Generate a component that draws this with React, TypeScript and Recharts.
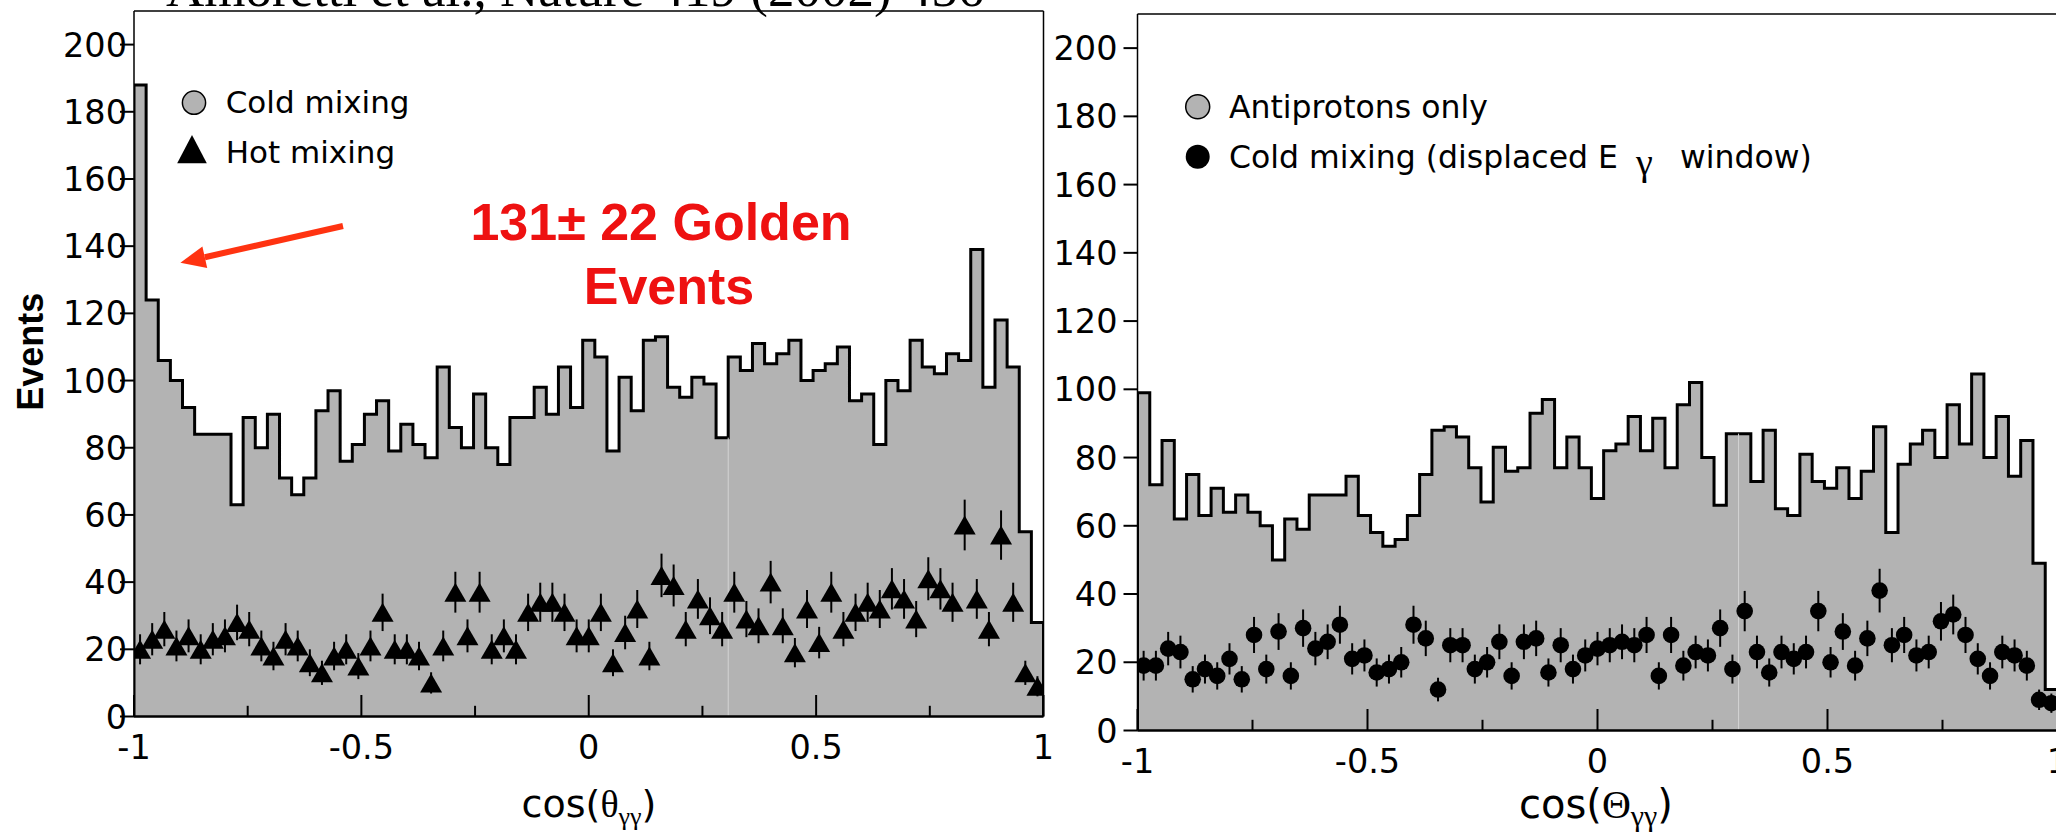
import React from 'react';
import {
  ComposedChart,
  Area,
  Scatter,
  XAxis,
  YAxis,
  ErrorBar,
  ReferenceLine,
} from 'recharts';

// ---------- data ----------
const BIN_COUNT = 75;
const xTicks = [-1, -0.75, -0.5, -0.25, 0, 0.25, 0.5, 0.75, 1];
const xMajorTicks = [-1, -0.5, 0, 0.5, 1];
const yTicks = [0, 20, 40, 60, 80, 100, 120, 140, 160, 180, 200];

// Left panel: cold mixing histogram (events per bin)
const coldMixingHist = [
  188, 124, 106, 100, 92, 84, 84, 84, 63, 89, 80, 90, 71, 66, 71, 91, 97, 76, 81, 90,
  94, 79, 87, 81, 77, 104, 86, 80, 96, 80, 75, 89, 89, 98, 90, 104, 92, 112, 107, 79,
  101, 91, 112, 113, 98, 95, 101, 99, 83, 107, 103, 111, 105, 108, 112, 100, 103, 105, 110, 94,
  96, 81, 100, 97, 112, 104, 102, 108, 106, 139, 98, 118, 104, 55, 28,
];
// Left panel: hot mixing points
const hotMixingPts = [
  20, 23, 26, 21, 24, 20, 23, 24, 28, 26, 21, 18, 23, 21, 16, 13, 18, 20, 15, 21,
  31, 20, 20, 18, 10, 21, 37, 24, 37, 20, 24, 20, 31, 34, 34, 31, 24, 24, 31, 16,
  25, 32, 18, 42, 39, 26, 35, 30, 26, 37, 29, 27, 40, 27, 19, 32, 22, 37, 26, 31,
  34, 32, 38, 35, 29, 41, 38, 34, 57, 35, 26, 54, 34, 13, 9,
];
// Right panel: antiprotons only histogram
const antiprotonHist = [
  99, 72, 85, 62, 75, 63, 71, 64, 69, 64, 60, 50, 62, 59, 69, 69, 69, 74.5, 63, 58,
  54, 56, 63, 75, 88, 89, 86, 77, 67, 83, 76, 77, 93, 97, 77, 86, 77, 68, 82, 84,
  92, 82, 91.5, 77, 95.5, 102, 80, 66, 87, 87, 73, 88, 65, 63, 81, 73, 71, 77, 68, 76,
  89, 58, 78, 84, 88, 80, 95.5, 84, 104.5, 80, 92, 74.5, 85, 49, 12,
];
// Right panel: cold mixing, displaced E-gamma window
const coldDisplacedPts = [
  19, 19, 24, 23, 15, 18, 16, 21, 15, 28, 18, 29, 16, 30, 24, 26, 31, 21, 22, 17,
  18, 20, 31, 27, 12, 25, 25, 18, 20, 26, 16, 26, 27, 17, 25, 18, 22, 24, 25, 26,
  25, 28, 16, 28, 19, 23, 22, 30, 18, 35, 23, 17, 23, 21, 23, 35, 20, 29, 19, 27,
  41, 25, 28, 22, 23, 32, 34, 28, 21, 16, 23, 22, 19, 9, 8,
];

const binEdge = (i: number) => -1 + (2 * i) / BIN_COUNT;

function histData(h: number[]) {
  const d: { x: number; y: number }[] = [{ x: -1, y: 0 }];
  h.forEach((v, i) => d.push({ x: binEdge(i), y: v }));
  d.push({ x: 1, y: h[h.length - 1] });
  d.push({ x: 1, y: 0 });
  return d;
}
function pointData(p: number[]) {
  return p.map((v, i) => ({ x: binEdge(i + 0.5), y: v, err: Math.sqrt(v) }));
}

const leftHistData = histData(coldMixingHist);
const leftPts = pointData(hotMixingPts);
const rightHistData = histData(antiprotonHist);
const rightPts = pointData(coldDisplacedPts);
const seamX = binEdge(49);

// ---------- styles ----------
const GRAY = '#b3b3b3';
const TICK_FONT = 'DejaVu Sans, Liberation Sans, sans-serif';
const LEG_FONT = 'DejaVu Sans, Liberation Sans, sans-serif';

const XTick = (props: any) => {
  const { x, y, payload } = props;
  const v = payload.value;
  const major = xMajorTicks.some((m) => Math.abs(m - v) < 1e-9);
  return (
    <g>
      <line x1={x} x2={x} y1={y} y2={y - (major ? 21.5 : 10.7)} stroke="#000" strokeWidth={2} />
      {major && (
        <text x={x} y={y + 42} textAnchor="middle" fontFamily={TICK_FONT} fontSize={33.5} fill="#000">
          {String(v)}
        </text>
      )}
    </g>
  );
};

const makeYTick = (gap: number) => (props: any) => {
  const { x, y, payload } = props;
  return (
    <g>
      <line x1={x - 14} x2={x} y1={y} y2={y} stroke="#000" strokeWidth={2} />
      <text x={x - gap} y={y} dy="0.36em" textAnchor="end" fontFamily={TICK_FONT} fontSize={33.5} fill="#000">
        {payload.value}
      </text>
    </g>
  );
};

const TriangleShape = (props: any) => {
  const { cx, cy } = props;
  if (cx == null || cy == null) return null;
  const w = 22;
  const h = 19;
  return (
    <polygon
      points={`${cx},${cy - h / 2} ${cx - w / 2},${cy + h / 2} ${cx + w / 2},${cy + h / 2}`}
      fill="#000"
    />
  );
};

const DotShape = (props: any) => {
  const { cx, cy } = props;
  if (cx == null || cy == null) return null;
  return <circle cx={cx} cy={cy} r={8.3} fill="#000" />;
};

function Panel({
  width,
  margin,
  hist,
  pts,
  shape,
  yGap,
  showRightFrame,
}: {
  width: number;
  margin: { top: number; right: number; bottom: number; left: number };
  hist: { x: number; y: number }[];
  pts: { x: number; y: number; err: number }[];
  shape: any;
  yGap: number;
  showRightFrame: boolean;
}) {
  const seamTop = Math.min(hist[50].y, hist[49].y);
  return (
    <ComposedChart width={width} height={832} data={hist} margin={margin}>
      <Area
        type="stepAfter"
        dataKey="y"
        fill={GRAY}
        fillOpacity={1}
        stroke="#000"
        strokeWidth={3}
        strokeLinejoin="miter"
        isAnimationActive={false}
        dot={false}
        activeDot={false}
      />
      <ReferenceLine
        segment={[
          { x: seamX, y: 0 },
          { x: seamX, y: seamTop },
        ]}
        stroke="#d4d4d4"
        strokeWidth={1}
      />
      <ReferenceLine y={210} stroke="#000" strokeWidth={1.5} />
      {showRightFrame && <ReferenceLine x={1} stroke="#000" strokeWidth={1.5} />}
      <XAxis
        type="number"
        dataKey="x"
        domain={[-1, 1]}
        ticks={xTicks}
        interval={0}
        allowDataOverflow
        height={1}
        tickSize={0}
        tickMargin={0}
        tickLine={false}
        axisLine={{ stroke: '#000', strokeWidth: 2.5 }}
        tick={XTick}
      />
      <YAxis
        type="number"
        dataKey="y"
        domain={[0, 210]}
        ticks={yTicks}
        interval={0}
        allowDataOverflow
        width={1}
        tickSize={0}
        tickMargin={0}
        tickLine={false}
        axisLine={{ stroke: '#000', strokeWidth: 1.5 }}
        tick={makeYTick(yGap)}
      />
      <Scatter data={pts} dataKey="y" shape={shape} isAnimationActive={false}>
        <ErrorBar dataKey="err" direction="y" width={0} stroke="#000" strokeWidth={2} isAnimationActive={false} />
      </Scatter>
    </ComposedChart>
  );
}

export default function App() {
  return (
    <div
      style={{
        position: 'absolute',
        left: 0,
        top: 0,
        width: 2056,
        height: 832,
        overflow: 'hidden',
        background: '#fff',
      }}
    >
      <div style={{ position: 'absolute', left: 1046, top: 0 }}>
        <Panel
          width={1020}
          margin={{ top: 14, right: 8.5, bottom: 100.5, left: 90.5 }}
          hist={rightHistData}
          pts={rightPts}
          shape={DotShape}
          yGap={20}
          showRightFrame={false}
        />
      </div>
      <div style={{ position: 'absolute', left: 0, top: 0 }}>
        <Panel
          width={1070}
          margin={{ top: 11, right: 26.5, bottom: 114.5, left: 133 }}
          hist={leftHistData}
          pts={leftPts}
          shape={TriangleShape}
          yGap={7}
          showRightFrame
        />
      </div>
      <svg
        width={2056}
        height={832}
        style={{ position: 'absolute', left: 0, top: 0, pointerEvents: 'none' }}
      >
        {/* cut-off citation at the top */}
        <text x={166} y={6} fontFamily="Liberation Serif, Times New Roman, serif" fontSize={53} fill="#000">
          Amoretti et al., Nature 419 (2002) 456
        </text>
        {/* y axis title */}
        <text
          transform="translate(43,351.7) rotate(-90)"
          textAnchor="middle"
          fontFamily="Liberation Sans, Arial, sans-serif"
          fontWeight="bold"
          fontSize={36}
          fill="#000"
        >
          Events
        </text>
        {/* left legend */}
        <circle cx={194} cy={102.7} r={11.6} fill={GRAY} stroke="#000" strokeWidth={1.5} />
        <text x={225.7} y={113.3} fontFamily={LEG_FONT} fontSize={31} fill="#000">
          Cold mixing
        </text>
        <polygon points="192,135 177.2,163.3 206.8,163.3" fill="#000" />
        <text x={225.7} y={163.3} fontFamily={LEG_FONT} fontSize={31} fill="#000">
          Hot mixing
        </text>
        {/* annotation */}
        <line x1={343} y1={226} x2={204.8} y2={257.2} stroke="#ff3311" strokeWidth={6} />
        <polygon points="180.4,262.7 207.2,267.9 202.4,246.5" fill="#ff3311" />
        <text
          x={661}
          y={240}
          textAnchor="middle"
          fontFamily="Liberation Sans, Arial, sans-serif"
          fontWeight="bold"
          fontSize={52}
          fill="#ee1111"
        >
          131± 22 Golden
        </text>
        <text
          x={669}
          y={304}
          textAnchor="middle"
          fontFamily="Liberation Sans, Arial, sans-serif"
          fontWeight="bold"
          fontSize={52}
          fill="#ee1111"
        >
          Events
        </text>
        {/* left x title */}
        <text x={589} y={817} textAnchor="middle" fontFamily={LEG_FONT} fontSize={38} fill="#000">
          cos(
          <tspan fontFamily="Liberation Serif, serif">θ</tspan>
          <tspan fontFamily="Liberation Serif, serif" fontSize={26} dy={8}>
            γγ
          </tspan>
          <tspan dy={-8}>)</tspan>
        </text>
        {/* right legend */}
        <circle cx={1197.7} cy={106.7} r={12} fill={GRAY} stroke="#000" strokeWidth={1.5} />
        <text x={1229} y={118.3} fontFamily={LEG_FONT} fontSize={31.5} fill="#000">
          Antiprotons only
        </text>
        <circle cx={1197.7} cy={156.7} r={12} fill="#000" />
        <text x={1229} y={168} fontFamily={LEG_FONT} fontSize={31.5} fill="#000">
          Cold mixing (displaced E
        </text>
        <text x={1636} y={175} fontFamily="Liberation Serif, serif" fontSize={38} fill="#000">
          γ
        </text>
        <text x={1680} y={168} fontFamily={LEG_FONT} fontSize={31.5} fill="#000">
          window)
        </text>
        {/* right x title */}
        <text x={1596} y={818} textAnchor="middle" fontFamily={LEG_FONT} fontSize={40} fill="#000">
          cos(
          <tspan fontFamily="Liberation Serif, serif">Θ</tspan>
          <tspan fontFamily="Liberation Serif, serif" fontSize={30} dy={8}>
            γγ
          </tspan>
          <tspan dy={-8}>)</tspan>
        </text>
      </svg>
    </div>
  );
}
